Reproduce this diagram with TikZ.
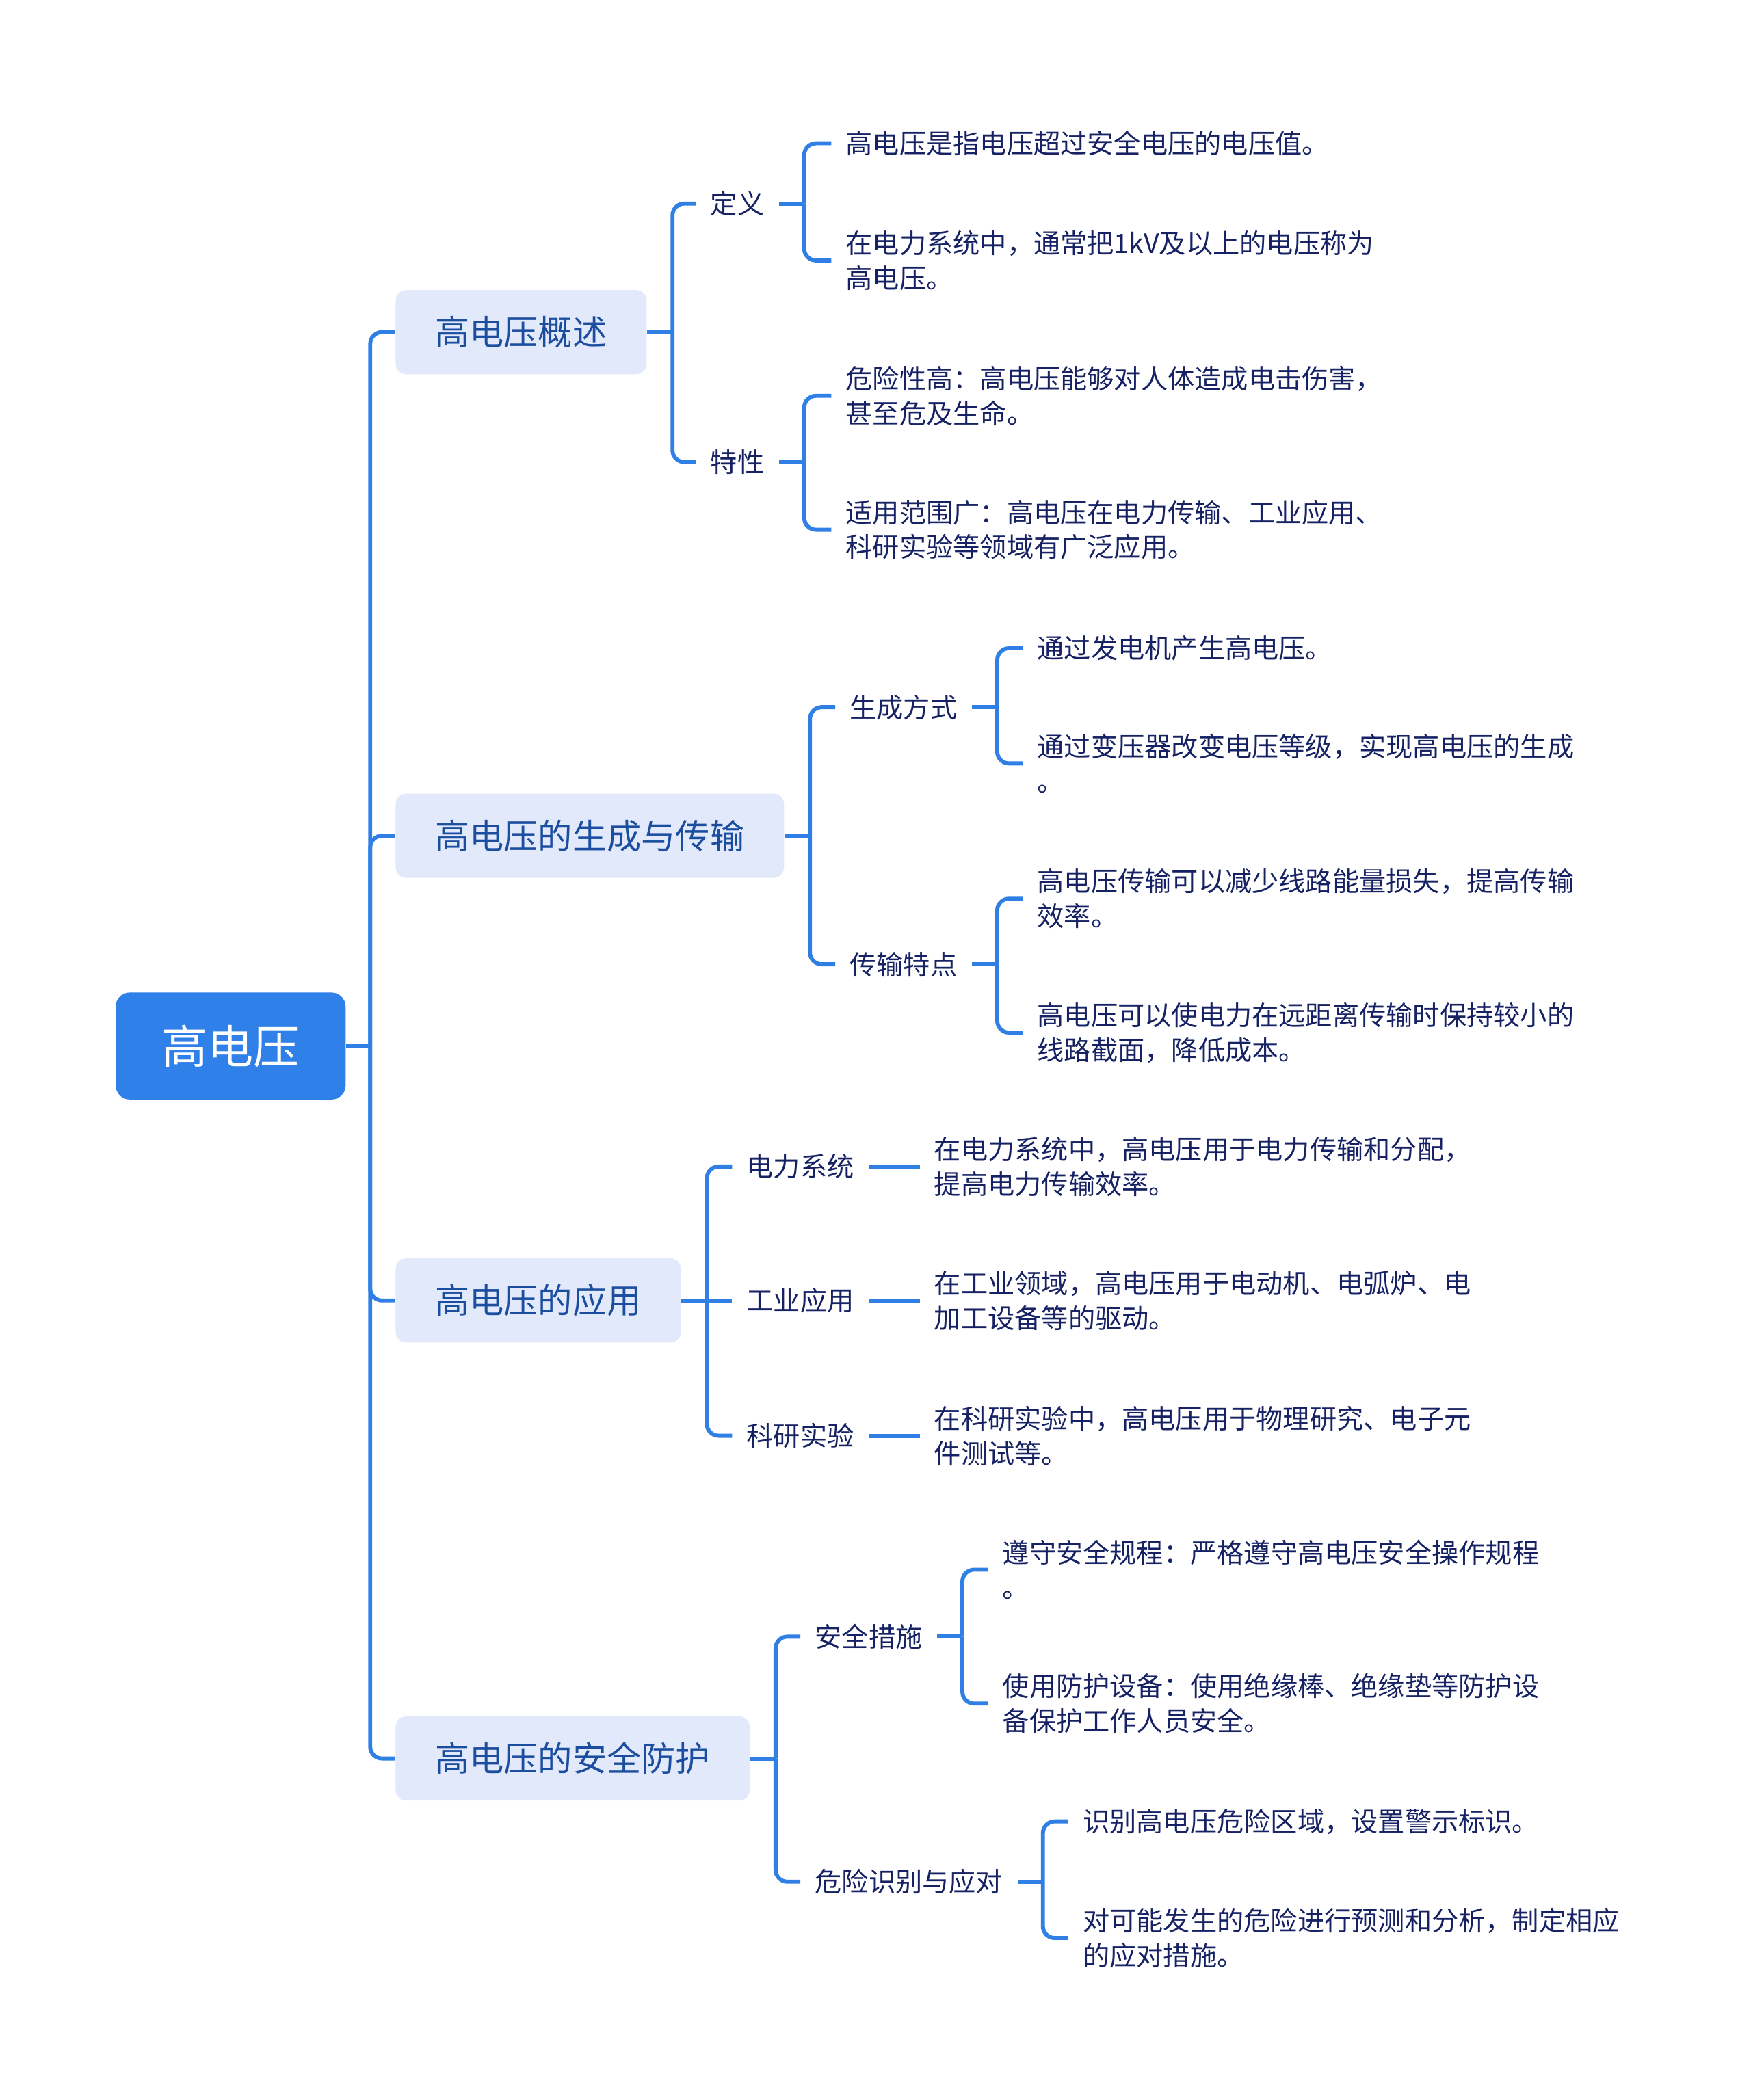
\documentclass[tikz,border=0pt]{standalone}
\usepackage{fontspec}
\setmainfont{Noto Sans CJK SC}
\usepackage{xcolor}
\definecolor{hvLine}{RGB}{47,127,228}
\definecolor{hvRoot}{RGB}{47,128,232}
\definecolor{hvTopic}{RGB}{225,233,251}
\definecolor{hvTopicText}{RGB}{28,78,160}
\definecolor{hvText}{RGB}{22,34,100}

\begin{document}
\begin{tikzpicture}[x=0.02cm, y=-0.02cm,
    rootbox/.style={fill=hvRoot, text=white, rounded corners=6pt, anchor=west, inner xsep=19.6pt, minimum height=45.5pt, font=\fontsize{19.5pt}{23pt}\selectfont},
    topic/.style={fill=hvTopic, text=hvTopicText, rounded corners=4.5pt, anchor=west, inner xsep=16.8pt, minimum height=35.8pt, font=\fontsize{14.6pt}{18pt}\selectfont},
    sub/.style={text=hvText, anchor=west, inner xsep=6pt, font=\fontsize{11.4pt}{14.8pt}\selectfont},
    leaf/.style={sub, align=left},
    link/.style={draw=hvLine, line width=1.7pt, rounded corners=5pt}]
    \useasboundingbox (0,0) rectangle (1307,1568);

    % root
    \node[rootbox] (root) at (86,781) {高电压};

    % first level
    \node[topic] (ov) at (295,248) {高电压概述};
    \node[topic] (gen) at (295,624) {高电压的生成与传输};
    \node[topic] (app) at (295,971) {高电压的应用};
    \node[topic] (safe) at (295,1313) {高电压的安全防护};

    % second level
    \node[sub] (def) at (519.5,152) {定义};
    \node[sub] (prop) at (519.5,345) {特性};
    \node[sub] (make) at (623.5,528) {生成方式};
    \node[sub] (trans) at (623.5,720) {传输特点};
    \node[sub] (power) at (546.5,871) {电力系统};
    \node[sub] (ind) at (546.5,971) {工业应用};
    \node[sub] (sci) at (546.5,1072) {科研实验};
    \node[sub] (meas) at (597.5,1222) {安全措施};
    \node[sub] (risk) at (597.5,1405) {危险识别与应对};

    % leaves
    \node[leaf] (def1) at (620.5,107) {高电压是指电压超过安全电压的电压值。};
    \node[leaf] (def2) at (620.5,194.5) {在电力系统中，通常把1kV及以上的电压称为\\高电压。};
    \node[leaf] (prop1) at (620.5,295.5) {危险性高：高电压能够对人体造成电击伤害，\\甚至危及生命。};
    \node[leaf] (prop2) at (620.5,395.5) {适用范围广：高电压在电力传输、工业应用、\\科研实验等领域有广泛应用。};
    \node[leaf] (make1) at (763.5,484) {通过发电机产生高电压。};
    \node[leaf] (make2) at (763.5,570) {通过变压器改变电压等级，实现高电压的生成\\。};
    \node[leaf] (trans1) at (763.5,671) {高电压传输可以减少线路能量损失，提高传输\\效率。};
    \node[leaf] (trans2) at (763.5,771) {高电压可以使电力在远距离传输时保持较小的\\线路截面，降低成本。};
    \node[leaf] (power1) at (686.5,871) {在电力系统中，高电压用于电力传输和分配，\\提高电力传输效率。};
    \node[leaf] (ind1) at (686.5,971) {在工业领域，高电压用于电动机、电弧炉、电\\加工设备等的驱动。};
    \node[leaf] (sci1) at (686.5,1072) {在科研实验中，高电压用于物理研究、电子元\\件测试等。};
    \node[leaf] (meas1) at (737.5,1172) {遵守安全规程：严格遵守高电压安全操作规程\\。};
    \node[leaf] (meas2) at (737.5,1272) {使用防护设备：使用绝缘棒、绝缘垫等防护设\\备保护工作人员安全。};
    \node[leaf] (risk1) at (797.5,1360) {识别高电压危险区域，设置警示标识。};
    \node[leaf] (risk2) at (797.5,1447) {对可能发生的危险进行预测和分析，制定相应\\的应对措施。};

    % trunk
    \path (root.east) ++(18,0) coordinate (root-hub);
    \draw[link] (root.east) -- (root-hub);
    \foreach \n in {ov,gen,app,safe}
        \draw[link] (root-hub) |- (\n.west);

    % brackets
    \foreach \p/\a/\b in {ov/def/prop, gen/make/trans, safe/meas/risk,
            def/def1/def2, prop/prop1/prop2, make/make1/make2,
            trans/trans1/trans2, meas/meas1/meas2, risk/risk1/risk2} {
        \path (\p.east) ++(19,0) coordinate (\p-hub);
        \draw[link] (\p.east) -- (\p-hub);
        \draw[link] (\p-hub) |- (\a.west);
        \draw[link] (\p-hub) |- (\b.west);
    }

    % applications
    \path (app.east) ++(19,0) coordinate (app-hub);
    \draw[link] (app.east) -- (app-hub);
    \draw[link] (app-hub) |- (power.west);
    \draw[link] (app-hub) -- (ind.west);
    \draw[link] (app-hub) |- (sci.west);
    \foreach \a/\b in {power/power1, ind/ind1, sci/sci1}
        \draw[link] (\a.east) -- (\b.west);
\end{tikzpicture}
\end{document}
